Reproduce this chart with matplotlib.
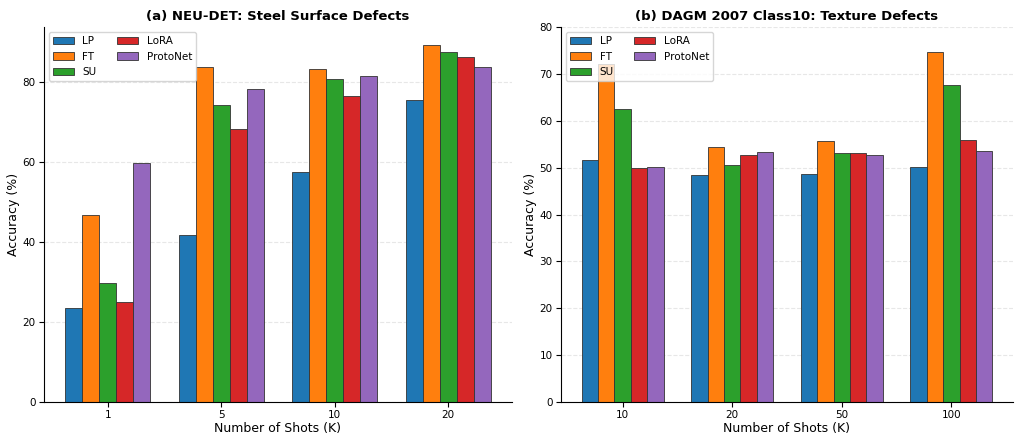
import matplotlib.pyplot as plt
import numpy as np

methods = ['LP', 'FT', 'SU', 'LoRA', 'ProtoNet']
colors = ['#1f77b4', '#ff7f0e', '#2ca02c', '#d62728', '#9467bd']

# (a) NEU-DET
neu_shots = ['1', '5', '10', '20']
neu_lp = [23.5, 41.7, 57.5, 75.6]
neu_ft = [46.8, 83.7, 83.4, 89.3]
neu_su = [29.8, 74.3, 80.7, 87.5]
neu_lora = [25.0, 68.2, 76.5, 86.2]
neu_proto = [59.9, 78.2, 81.6, 83.7]

# (b) DAGM 2007 Class10
dagm_shots = ['10', '20', '50', '100']
dagm_lp = [51.6, 48.5, 48.7, 50.1]
dagm_ft = [72.1, 54.4, 55.7, 74.6]
dagm_su = [62.5, 50.5, 53.1, 67.7]
dagm_lora = [49.9, 52.7, 53.2, 55.9]
dagm_proto = [50.1, 53.4, 52.7, 53.5]


def draw(ax, shots, series, title, ylim=None):
    x = np.arange(len(shots))
    w = 0.15
    for i, (vals, name) in enumerate(zip(series, methods)):
        ax.bar(x + (i - 2) * w, vals, w, label=name, color=colors[i],
               edgecolor='#333333', linewidth=0.6)
    ax.set_xticks(x)
    ax.set_xticklabels(shots)
    ax.set_xlabel('Number of Shots (K)', fontsize=9, labelpad=1)
    ax.set_ylabel('Accuracy (%)', fontsize=9, labelpad=2)
    ax.set_title(title, fontsize=9.5, fontweight='bold', pad=5)
    ax.tick_params(labelsize=7.5, pad=2.5)
    if ylim is not None:
        ax.set_ylim(*ylim)
    ax.grid(axis='y', linestyle='--', alpha=0.3)
    ax.set_axisbelow(True)
    ax.spines['top'].set_visible(False)
    ax.spines['right'].set_visible(False)
    ax.legend(loc='upper left', ncol=2, fontsize=7.5, framealpha=0.8)


fig, (ax1, ax2) = plt.subplots(1, 2, figsize=(10.15, 4.37), dpi=100)

draw(ax1, neu_shots, [neu_lp, neu_ft, neu_su, neu_lora, neu_proto],
     '(a) NEU-DET: Steel Surface Defects')
draw(ax2, dagm_shots, [dagm_lp, dagm_ft, dagm_su, dagm_lora, dagm_proto],
     '(b) DAGM 2007 Class10: Texture Defects', ylim=(0, 80))

ax1.set_position([0.0433, 0.08, 0.4611, 0.858])
ax2.set_position([0.5527, 0.08, 0.4453, 0.858])

plt.savefig('out.png', dpi=100)
